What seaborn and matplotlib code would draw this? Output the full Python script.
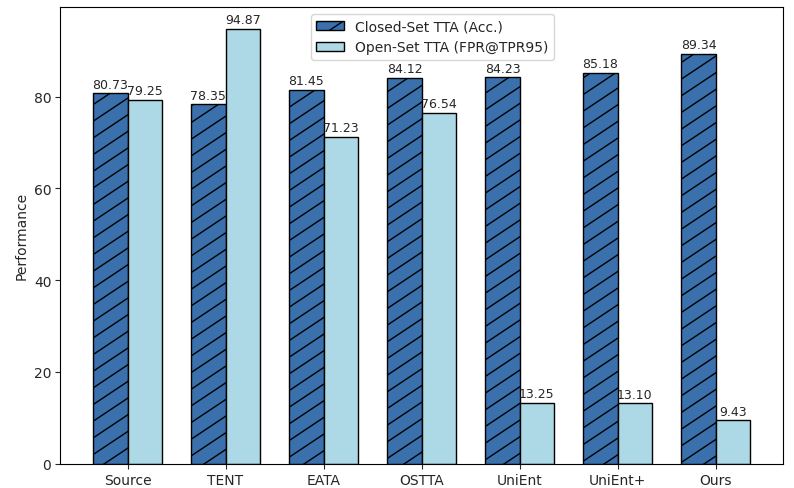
import numpy as np
import seaborn as sns
import pandas as pd
import matplotlib.pyplot as plt
from matplotlib import hatch as mhatch
from matplotlib.path import Path

sns.set_style("ticks")

methods = ["Source", "TENT", "EATA", "OSTTA", "UniEnt", "UniEnt+", "Ours"]
closed_acc = [80.73, 78.35, 81.45, 84.12, 84.23, 85.18, 89.34]
open_fpr = [79.25, 94.87, 71.23, 76.54, 13.25, 13.10, 9.43]
series = ["Closed-Set TTA (Acc.)", "Open-Set TTA (FPR@TPR95)"]


# the hatch in the original is flatter than 45 degrees, so swap in a '/' pattern with slope 2/3
class FlatNorthEastHatch(mhatch.HatchPatternBase):
    def __init__(self, hatch, density):
        self.num_lines = int((hatch.count('/') + hatch.count('x') + hatch.count('X')) * density)
        self.offsets = np.arange(-4, 7) / 6 if self.num_lines else np.array([])
        self.num_vertices = len(self.offsets) * 2

    def set_vertices_and_codes(self, vertices, codes):
        vertices[0::2, 0] = 0.0
        vertices[0::2, 1] = self.offsets
        vertices[1::2, 0] = 1.0
        vertices[1::2, 1] = self.offsets + 2 / 3
        codes[0::2] = Path.MOVETO
        codes[1::2] = Path.LINETO


if mhatch.NorthEastHatch in mhatch._hatch_types:
    mhatch._hatch_types[mhatch._hatch_types.index(mhatch.NorthEastHatch)] = FlatNorthEastHatch

data = pd.DataFrame({
    "Method": methods * 2,
    "Setting": [series[0]] * len(methods) + [series[1]] * len(methods),
    "Performance": closed_acc + open_fpr,
})

fig, ax = plt.subplots(figsize=(7.94, 4.89), dpi=100)
sns.barplot(data=data, x="Method", y="Performance", hue="Setting",
            palette=["#3a71ad", "#add8e6"], width=0.7, saturation=1,
            edgecolor="black", linewidth=1, ax=ax, legend=False)

for bar in ax.containers[0]:
    bar.set_hatch("/")

for cont in ax.containers:
    ax.bar_label(cont, fmt="%.2f", fontsize=9, padding=2)

ax.legend(handles=ax.containers[:2], labels=series, loc="upper center",
          bbox_to_anchor=(0.515, 1.0), fontsize=10, frameon=True)
ax.set_xlabel("")
ax.set_ylabel("Performance", fontsize=10)
ax.margins(x=0.05)
ax.tick_params(labelsize=10, pad=3)
for s in ax.spines.values():
    s.set_visible(True)
    s.set_color("black")

fig.subplots_adjust(left=0.076, right=0.986, top=0.984, bottom=0.05)
fig.savefig("out.png", dpi=100)
